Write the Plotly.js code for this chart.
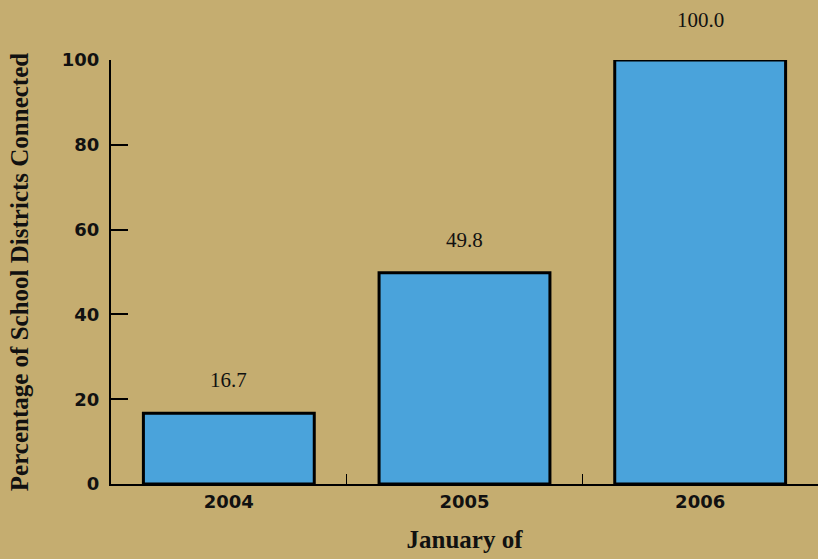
<!DOCTYPE html>
<html>
<head>
<meta charset="utf-8">
<script src="https://cdn.plot.ly/plotly-3.0.1.min.js"></script>
<style>html,body{margin:0;padding:0;background:#C5AD70;}#chart{width:818px;height:559px;}</style>
</head>
<body>
<div id="chart"></div>
<script>
const categories = ["2004", "2005", "2006"];
const values = [16.7, 49.8, 100.0];
const valueLabels = ["16.7", "49.8", "100.0"];
const yTicks = [0, 20, 40, 60, 80, 100];
const yTickLabels = ["0", "20", "40", "60", "80", "100"];

const labelShift = [33, 33, 40];
const tickFont = {family: "DejaVu Sans", size: 18, color: "#111", weight: "bold"};
const titleFont = {family: "Liberation Serif", size: 25, color: "#111", weight: "bold"};

const trace = {
  type: "bar",
  x: categories,
  y: values,
  width: 0.725,
  marker: {color: "#4AA3DB", line: {color: "#000", width: 3}},
  hoverinfo: "skip"
};

const annotations = values.map((v, i) => ({
  x: i, y: v, text: valueLabels[i], showarrow: false,
  xref: "x", yref: "y", yanchor: "middle", yshift: labelShift[i],
  font: {family: "Liberation Serif", size: 21, color: "#111"}
}));

const layout = {
  width: 818, height: 559,
  paper_bgcolor: "#C5AD70", plot_bgcolor: "#C5AD70",
  margin: {l: 111, r: 0, t: 60, b: 75},
  showlegend: false,
  xaxis: {
    type: "category",
    range: [-0.5, 2.5],
    tickson: "boundaries",
    ticks: "inside", ticklen: 10, tickwidth: 1.5, tickcolor: "#000",
    showline: true, linecolor: "#000", linewidth: 2,
    showgrid: false, zeroline: false,
    tickfont: tickFont,
    title: {text: "January of", font: titleFont, standoff: 20}
  },
  yaxis: {
    range: [0, 100],
    tickvals: yTicks, ticktext: yTickLabels,
    ticks: "inside", ticklen: 17, tickwidth: 2, tickcolor: "#000",
    showline: true, linecolor: "#000", linewidth: 2,
    showgrid: false, zeroline: false,
    tickfont: tickFont, ticklabelstandoff: 6,
    title: {text: "Percentage of School Districts Connected", font: titleFont, standoff: 26}
  },
  annotations: annotations
};

Plotly.newPlot("chart", [trace], layout, {displayModeBar: false, staticPlot: true});
</script>
</body>
</html>
